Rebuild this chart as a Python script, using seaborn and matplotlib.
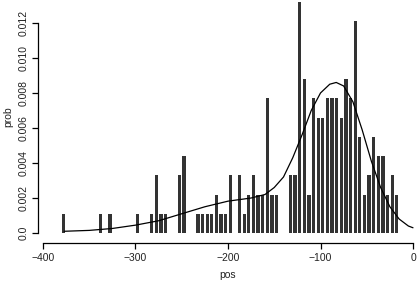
import matplotlib
matplotlib.use('Agg')
import matplotlib.pyplot as plt
import seaborn as sns
import numpy as np

# histogram: bin centres (width 5) and counts
bin_centers = [-377.5, -337.5, -327.5, -297.5, -282.5, -277.5, -272.5, -267.5,
               -252.5, -247.5, -232.5, -227.5, -222.5, -217.5, -212.5, -207.5,
               -202.5, -197.5, -187.5, -182.5, -177.5, -172.5, -167.5, -162.5,
               -157.5, -152.5, -147.5, -132.5, -127.5, -122.5, -117.5, -112.5,
               -107.5, -102.5, -97.5, -92.5, -87.5, -82.5, -77.5, -72.5,
               -67.5, -62.5, -57.5, -52.5, -47.5, -42.5, -37.5, -32.5,
               -27.5, -22.5, -17.5]
counts = [1, 1, 1, 1, 1, 3, 1, 1,
          3, 4, 1, 1, 1, 1, 2, 1,
          1, 3, 3, 1, 2, 3, 2, 2,
          7, 2, 2, 3, 3, 12, 8, 2,
          7, 6, 6, 7, 7, 7, 6, 8,
          7, 11, 5, 2, 3, 5, 4, 4,
          2, 3, 2]

# fitted density curve
curve_x = [-377, -350, -325, -300, -275, -250, -225, -200, -175, -160, -150,
           -140, -130, -120, -110, -100, -90, -83, -75, -65, -55, -45, -35,
           -25, -15, -5, 0]
curve_y = [0.0001, 0.00015, 0.00026, 0.00045, 0.0007, 0.0011, 0.0015, 0.00182,
           0.002, 0.0022, 0.0026, 0.0032, 0.0043, 0.0056, 0.0070, 0.0080,
           0.0085, 0.0086, 0.0084, 0.0075, 0.0059, 0.0041, 0.0026, 0.0015,
           0.0008, 0.0004, 0.0003]

x_ticks = [-400, -300, -200, -100, 0]
y_ticks = [0.0, 0.002, 0.004, 0.006, 0.008, 0.010, 0.012]
y_labels = ['0.0', '0.002', '0.004', '0.006', '0.008', '0.010', '0.012']

sns.set_style('ticks')
plt.rcParams['font.family'] = ['Liberation Sans', 'DejaVu Sans']

fig = plt.figure(figsize=(4.18, 2.83), dpi=100)
ax = fig.add_axes([38 / 418, 40 / 283, 380 / 418, 243 / 283])

sns.histplot(x=bin_centers, weights=counts, binwidth=5, binrange=(-380, -15),
             stat='density', shrink=0.68, color='#333333', alpha=1,
             linewidth=0, ax=ax)
sns.lineplot(x=curve_x, y=curve_y, color='black', linewidth=0.9, ax=ax)

ax.set_xlim(-405.4, 5.4)
ax.set_ylim(-0.00057, 0.01331)

ax.set_xticks(x_ticks)
ax.set_xticklabels([str(t).replace('-', '\u2212') for t in x_ticks])
ax.set_yticks(y_ticks)
ax.set_yticklabels(y_labels, rotation=90, va='center')

sns.despine(ax=ax, top=True, right=True)
ax.spines['left'].set_bounds(0, 0.012)
ax.spines['bottom'].set_bounds(-400, 0)
for s in ['left', 'bottom']:
    ax.spines[s].set_linewidth(0.9)
    ax.spines[s].set_color('black')
ax.tick_params(axis='both', length=4.5, width=0.9, color='black',
               labelsize=7.5, labelcolor='#222222', pad=2.5)

ax.set_xlabel('pos', fontsize=7.5, color='#222222')
ax.set_ylabel('prob', fontsize=7.5, color='#222222')
ax.xaxis.set_label_coords(0.5, -0.11)
ax.yaxis.set_label_coords(-0.066, 0.52)

fig.savefig('out.png', dpi=100)
